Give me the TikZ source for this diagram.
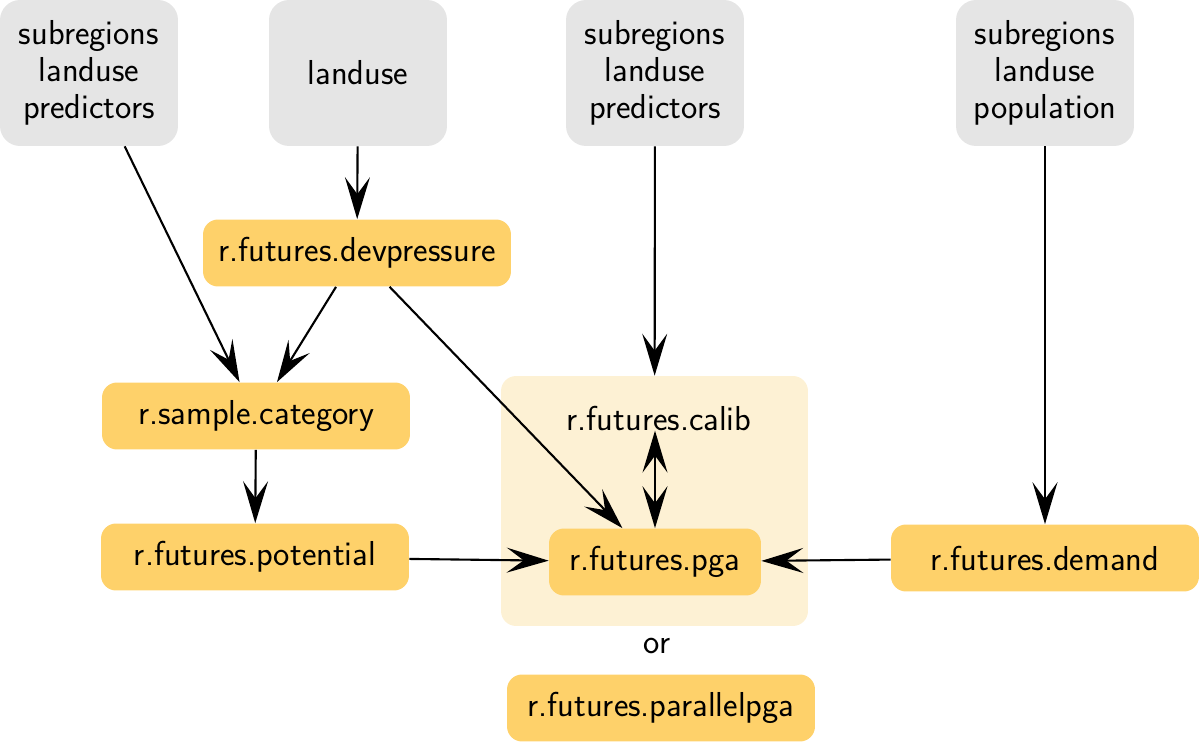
\documentclass[tikz,border=0pt]{standalone}
\usepackage{tikz}
\usetikzlibrary{arrows.meta}
\definecolor{inputgray}{RGB}{229,229,229}
\definecolor{moduleorange}{RGB}{254,209,106}
\definecolor{calibyellow}{RGB}{253,241,212}

\begin{document}
\begin{tikzpicture}[x=0.02cm,y=0.02cm]
\tikzstyle{every node}+=[font=\sffamily\fontsize{19.7}{21.2}\selectfont, inner sep=0pt]
\tikzstyle{input}=[fill=inputgray, rounded corners=0.4cm, minimum width=3.56cm, minimum height=2.92cm, align=center]
\tikzstyle{module}=[fill=moduleorange, rounded corners=0.3cm, minimum width=6.16cm, minimum height=1.34cm]
\tikzstyle{flow}=[-{Stealth[length=0.84cm,width=0.5cm,inset=0.34cm]}, line width=1.2pt]
\tikzstyle{twoway}=[{Stealth[length=0.84cm,width=0.5cm,inset=0.34cm]}-{Stealth[length=0.84cm,width=0.5cm,inset=0.34cm]}, line width=1.2pt]
\useasboundingbox (0,0) rectangle (1200,-742);
% calibration area
\node [fill=calibyellow, rounded corners=0.3cm, minimum width=6.14cm, minimum height=5cm] (calibbox) at (654.5,-501) {};
\node (calib) at (659,-418) {r.futures.calib};
% inputs
\node [input] (in1) at (89,-73) {subregions\\landuse\\predictors};
\node [input] (in2) at (358,-73) {landuse};
\node [input] (in3) at (655,-73) {subregions\\landuse\\predictors};
\node [input] (in4) at (1045,-73) {subregions\\landuse\\population};
% modules
\node [module] (devpressure) at (357,-253) {r.futures.devpressure};
\node [module] (sample) at (256,-416) {r.sample.category};
\node [module] (potential) at (255,-557) {r.futures.potential};
\node [module, minimum width=4.24cm] (pga) at (655,-562) {r.futures.pga};
\node [module] (demand) at (1045,-558) {r.futures.demand};
\node (or) at (657,-646) {or};
\node [module] (parallelpga) at (661,-708) {r.futures.parallelpga};
% connections
\draw [flow] (in2) -- (devpressure);
\draw [flow] (in1) -- (sample);
\draw [flow] (devpressure) -- (sample);
\draw [flow] (devpressure) -- (pga);
\draw [flow] (sample) -- (potential);
\draw [flow] (potential) -- (pga);
\draw [flow] (in3) -- (calibbox);
\draw [twoway] (pga.north -| in3) -- (calib.south -| in3);
\draw [flow] (demand) -- (pga);
\draw [flow] (in4) -- (demand);
\end{tikzpicture}
\end{document}
